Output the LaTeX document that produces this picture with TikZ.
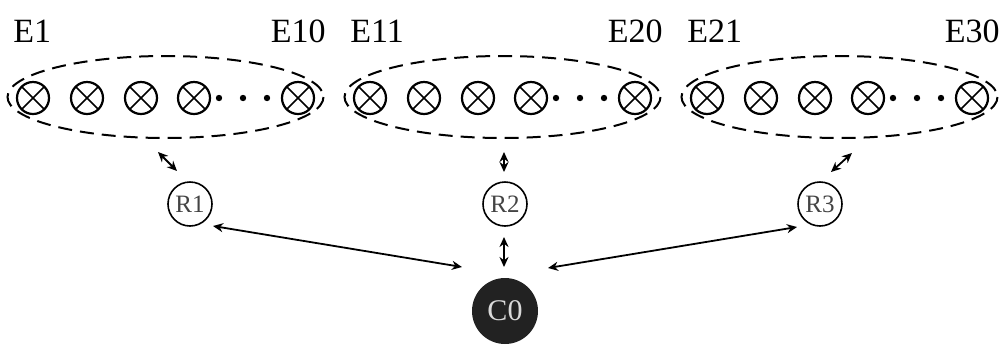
\documentclass[tikz,border=0pt]{standalone}
\usepackage{fontspec}
\setmainfont{Liberation Serif}
\usetikzlibrary{arrows.meta}
\definecolor{cfill}{HTML}{222222}
\definecolor{rtext}{HTML}{444444}
\tikzset{
  ue/.style={circle, draw, line width=1.1pt, minimum size=16pt, inner sep=0pt,
    path picture={\draw[line width=0.8pt]
      (path picture bounding box.north west) -- (path picture bounding box.south east)
      (path picture bounding box.north east) -- (path picture bounding box.south west);}},
  grp/.style={draw, dash pattern=on 7pt off 4pt, line width=1pt},
  rnode/.style={circle, draw, line width=0.8pt, minimum size=22pt, inner sep=0pt, text=rtext, font=\fontsize{12.5}{12.5}\selectfont},
  cnode/.style={circle, fill=cfill, minimum size=33pt, inner sep=0pt, text=black!15, font=\fontsize{15}{15}\selectfont},
  lab/.style={font=\fontsize{17}{17}\selectfont, inner sep=0pt},
  arr/.style={{Stealth[length=5pt,width=4.5pt]}-{Stealth[length=5pt,width=4.5pt]}, line width=0.9pt},
  dotn/.style={circle, fill, minimum size=3.2pt, inner sep=0pt}
}
\begin{document}
\begin{tikzpicture}[x=0.5pt,y=-0.5pt]
\useasboundingbox (0,0) rectangle (1002,344);
\foreach \g/\dx/\a/\b in {1/0/1/10, 2/337/11/20, 3/674/21/30}{
  \draw[grp] (165.5+\dx,97) ellipse [x radius=158, y radius=41];
  \node[ue] (e\g a) at (33+\dx,98) {};
  \node[ue] (e\g b) at (87+\dx,98) {};
  \node[ue] (e\g c) at (141+\dx,98) {};
  \node[ue] (e\g d) at (194+\dx,98) {};
  \node[dotn] (d\g a) at (219+\dx,98) {};
  \node[dotn] (d\g b) at (243+\dx,98) {};
  \node[dotn] (d\g c) at (267+\dx,98) {};
  \node[ue] (e\g z) at (298+\dx,98) {};
  \node[lab, anchor=base west] (l\g a) at (13+\dx,42) {E\a};
  \node[lab, anchor=base east] (l\g b) at (326+\dx,42) {E\b};
}
\node[rnode] (R1) at (190,204) {R1};
\node[rnode] (R2) at (505,204) {R2};
\node[rnode] (R3) at (820,204) {R3};
\node[cnode] (C0) at (505,311) {C0};
\coordinate (a1s) at (158,152);
\coordinate (a1e) at (177,171);
\coordinate (a2s) at (504,152);
\coordinate (a2e) at (504,172);
\coordinate (a3s) at (852,153);
\coordinate (a3e) at (831,172);
\coordinate (b1s) at (213,226);
\coordinate (b1e) at (462,267);
\coordinate (b2s) at (504,237);
\coordinate (b2e) at (504,267);
\coordinate (b3s) at (797,227);
\coordinate (b3e) at (548,268);
\draw[arr] (a1s) -- (a1e);
\draw[arr] (a2s) -- (a2e);
\draw[arr] (a3s) -- (a3e);
\draw[arr] (b1s) -- (b1e);
\draw[arr] (b2s) -- (b2e);
\draw[arr] (b3s) -- (b3e);
\end{tikzpicture}
\end{document}
